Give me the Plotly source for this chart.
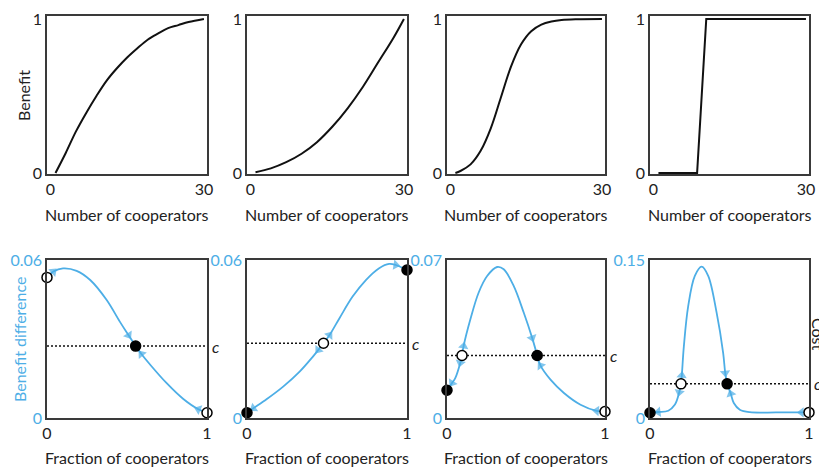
import plotly.graph_objects as go

# ---------------- data ----------------
# Top row: benefit vs number of cooperators
top1_x = [1, 3, 5, 7, 9, 11, 13, 15, 17, 19, 21, 23, 25, 27, 30]
top1_y = [0, 0.13, 0.27, 0.39, 0.5, 0.6, 0.68, 0.75, 0.81, 0.865, 0.905, 0.94, 0.96, 0.98, 1.0]
top2_x = [1, 4, 7, 10, 13, 16, 19, 22, 25, 28, 30]
top2_y = [0.005, 0.03, 0.07, 0.125, 0.2, 0.3, 0.42, 0.56, 0.72, 0.88, 1.0]
top3_x = [1, 2, 4, 6, 8, 10, 12, 14, 16, 18, 20, 22, 25, 30]
top3_y = [0, 0.013, 0.056, 0.144, 0.29, 0.49, 0.69, 0.835, 0.92, 0.963, 0.983, 0.993, 0.998, 1.0]
top4_x = [1, 8.6, 10.4, 30]
top4_y = [0, 0, 1, 1]

# Bottom row: benefit difference vs fraction of cooperators
bot1_x = [0, 0.04, 0.10, 0.185, 0.27, 0.373, 0.456, 0.51, 0.554, 0.59, 0.644, 0.748, 0.852, 0.946, 1.0]
bot1_y = [0.0534, 0.0556, 0.0568, 0.0559, 0.0524, 0.0448, 0.0365, 0.0314, 0.0273, 0.0243, 0.0203, 0.0132, 0.0072, 0.0033, 0.002]
bot1_fixed = [0, 8, 14]
bot1_stable = [False, True, False]
bot1_c = 0.0273

bot2_x = [0, 0.04, 0.122, 0.226, 0.329, 0.412, 0.445, 0.478, 0.516, 0.578, 0.66, 0.743, 0.826, 0.888, 0.93, 1.0]
bot2_y = [0.002, 0.0037, 0.0071, 0.0119, 0.0176, 0.0233, 0.0258, 0.0284, 0.0315, 0.0379, 0.0461, 0.0524, 0.0569, 0.0585, 0.0581, 0.0562]
bot2_fixed = [0, 7, 15]
bot2_stable = [True, False, True]
bot2_c = 0.0284

bot3_x = [0, 0.032, 0.053, 0.084, 0.095, 0.105, 0.148, 0.2, 0.254, 0.317, 0.359, 0.422, 0.486, 0.539, 0.571, 0.592, 0.655, 0.74, 0.845, 0.947, 1.0]
bot3_y = [0.0123, 0.0155, 0.0178, 0.0244, 0.0277, 0.0318, 0.0437, 0.0555, 0.0629, 0.0669, 0.0659, 0.0585, 0.0466, 0.0355, 0.0277, 0.0232, 0.017, 0.0111, 0.0059, 0.0032, 0.0029]
bot3_fixed = [0, 4, 14, 20]
bot3_stable = [True, False, True, False]
bot3_c = 0.0277

bot4_x = [0, 0.052, 0.115, 0.157, 0.184, 0.195, 0.2, 0.213, 0.24, 0.282, 0.325, 0.366, 0.419, 0.46, 0.473, 0.485, 0.508, 0.527, 0.565, 0.628, 0.795, 0.952, 1.0]
bot4_y = [0.005, 0.0057, 0.0069, 0.0127, 0.0244, 0.0324, 0.0403, 0.0682, 0.106, 0.135, 0.1437, 0.135, 0.1, 0.0619, 0.0428, 0.0324, 0.0231, 0.0143, 0.0079, 0.0055, 0.0053, 0.0053, 0.0053]
bot4_fixed = [0, 5, 15, 22]
bot4_stable = [True, False, True, False]
bot4_c = 0.0324

bot_ymax = [0.06, 0.06, 0.07, 0.15]
bot_ytick_text = ["0.06", "0.06", "0.07", "0.15"]

# ---------------- style ----------------
OFF = 8  # default page body margin in the exported HTML
W, H = 827 - OFF, 468 - OFF
BLUE = "#4DAEE6"
DARK = "#222222"
FONT = "Lato"
FS = 16
col_px = [(47, 207), (247, 407), (447, 605), (650, 809)]
top_px = (16, 174)
bot_px = (260, 418)


def px_x(p):
    return (p - OFF) / W


def px_y(p):
    return 1 - (p - OFF) / H


def xd(a, b):
    return [px_x(a), px_x(b)]


def yd(t, b):
    return [px_y(b), px_y(t)]


fig = go.Figure()

axis_common = dict(showgrid=False, zeroline=False, showline=True, mirror=True,
                   linecolor="#3a3a3a", linewidth=1.5, ticks="", automargin=False,
                   tickfont=dict(family=FONT, size=FS, color=DARK))

tops = [(top1_x, top1_y, "spline"), (top2_x, top2_y, "spline"),
        (top3_x, top3_y, "spline"), (top4_x, top4_y, "linear")]
for i, (tx, ty, shape) in enumerate(tops):
    n = i + 1
    xa = "x" if n == 1 else f"x{n}"
    ya = "y" if n == 1 else f"y{n}"
    fig.add_trace(go.Scatter(x=tx, y=ty, xaxis=xa, yaxis=ya, mode="lines",
                             line=dict(color="#111111", width=2, shape=shape),
                             hoverinfo="skip"))
    fig.update_layout(**{
        f"xaxis{'' if n == 1 else n}": dict(axis_common, domain=xd(*col_px[i]), anchor=ya,
                                            range=[-0.66, 30.6], tickvals=[0, 30]),
        f"yaxis{'' if n == 1 else n}": dict(axis_common, domain=yd(*top_px), anchor=xa,
                                            range=[-0.0065, 1.019], tickvals=[0, 1]),
    })

bots = [(bot1_x, bot1_y, bot1_fixed, bot1_stable, bot1_c),
        (bot2_x, bot2_y, bot2_fixed, bot2_stable, bot2_c),
        (bot3_x, bot3_y, bot3_fixed, bot3_stable, bot3_c),
        (bot4_x, bot4_y, bot4_fixed, bot4_stable, bot4_c)]

annotations = []
for i, (bx, by, fixed, stable, c) in enumerate(bots):
    n = i + 5
    xa, ya = f"x{n}", f"y{n}"
    fig.update_layout(**{
        f"xaxis{n}": dict(axis_common, domain=xd(*col_px[i]), anchor=ya,
                          range=[0, 1], tickvals=[0, 1]),
        f"yaxis{n}": dict(axis_common, domain=yd(*bot_px), anchor=xa,
                          range=[0, bot_ymax[i]], tickvals=[0, bot_ymax[i]],
                          ticktext=["0", bot_ytick_text[i]],
                          tickfont=dict(family=FONT, size=FS, color=BLUE)),
    })
    # dotted cost line
    fig.add_trace(go.Scatter(x=[0, 1], y=[c, c], xaxis=xa, yaxis=ya, mode="lines",
                             line=dict(color="#111111", width=1.5, dash="2px,2px"),
                             hoverinfo="skip"))
    # curve segments between fixed points with direction arrows
    for a, b in zip(fixed[:-1], fixed[1:]):
        idx = list(range(a, b + 1))
        mid = (a + b) // 2
        if by[mid] < c:
            idx = idx[::-1]
        sx = [bx[k] for k in idx]
        sy = [by[k] for k in idx]
        sizes = [0] * len(idx)
        sizes[1] = 9
        sizes[-2] = 9
        fig.add_trace(go.Scatter(x=sx, y=sy, xaxis=xa, yaxis=ya, mode="lines+markers",
                                 line=dict(color=BLUE, width=1.8, shape="spline"),
                                 marker=dict(symbol="triangle-up", size=sizes, color=BLUE,
                                             angleref="previous", line=dict(width=0)),
                                 cliponaxis=False, hoverinfo="skip"))
    # fixed points
    fig.add_trace(go.Scatter(x=[bx[k] for k in fixed], y=[by[k] for k in fixed],
                             xaxis=xa, yaxis=ya, mode="markers",
                             marker=dict(size=10, symbol="circle",
                                         color=["#000000" if s else "#ffffff" for s in stable],
                                         line=dict(color="#000000", width=1.5)),
                             cliponaxis=False, hoverinfo="skip"))
    annotations.append(dict(text="<i>c</i>", x=px_x(col_px[i][1] + 3), xref="paper",
                            y=c, yref=ya, xanchor="left", yanchor="middle", showarrow=False,
                            font=dict(family=FONT, size=FS, color=DARK)))

for i in range(4):
    cx = px_x((col_px[i][0] + col_px[i][1]) / 2)
    annotations.append(dict(text="Number of cooperators", x=cx, y=px_y(215),
                            xref="paper", yref="paper", showarrow=False,
                            xanchor="center", yanchor="middle",
                            font=dict(family=FONT, size=FS, color=DARK)))
    annotations.append(dict(text="Fraction of cooperators", x=cx, y=px_y(457),
                            xref="paper", yref="paper", showarrow=False,
                            xanchor="center", yanchor="middle",
                            font=dict(family=FONT, size=FS, color=DARK)))

annotations.append(dict(text="Benefit", x=px_x(23), y=px_y(96), xref="paper", yref="paper",
                        showarrow=False, textangle=-90, xanchor="center", yanchor="middle",
                        font=dict(family=FONT, size=FS, color=DARK)))
annotations.append(dict(text="Benefit difference", x=px_x(19), y=px_y(340), xref="paper",
                        yref="paper", showarrow=False, textangle=-90, xanchor="center",
                        yanchor="middle", font=dict(family=FONT, size=FS, color=BLUE)))
annotations.append(dict(text="Cost", x=px_x(819), y=px_y(334), xref="paper", yref="paper",
                        showarrow=False, textangle=90, xanchor="center", yanchor="middle",
                        font=dict(family=FONT, size=FS, color=DARK)))

fig.update_layout(width=W, height=H, margin=dict(l=0, r=0, t=0, b=0),
                  paper_bgcolor="white", plot_bgcolor="white", showlegend=False,
                  annotations=annotations)

fig.write_html("out.html")
